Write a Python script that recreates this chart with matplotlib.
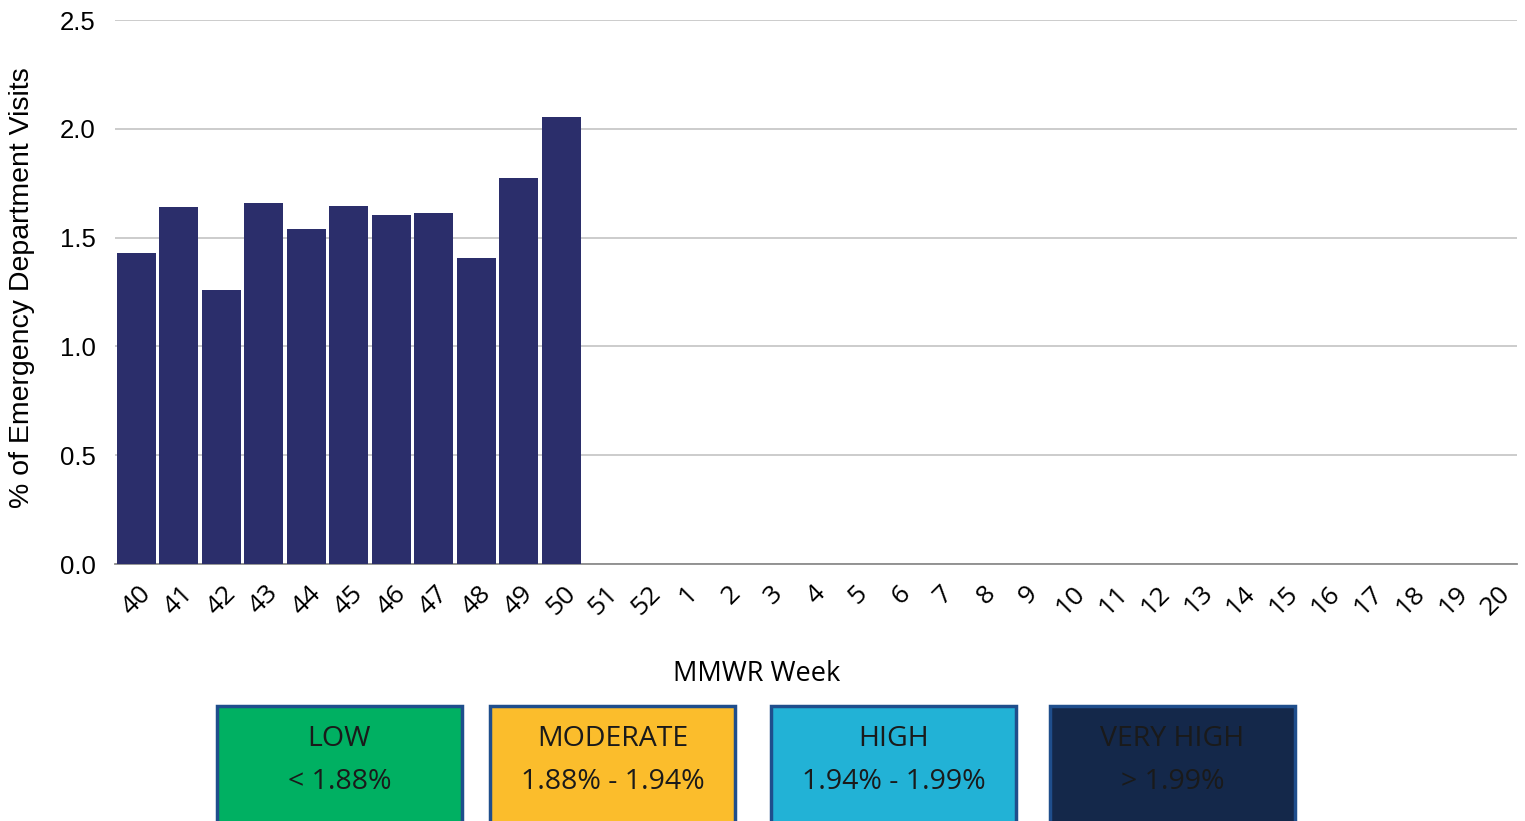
import matplotlib.pyplot as plt
from matplotlib.patches import Rectangle

# ---- Data ---- #
weeks = ["40", "41", "42", "43", "44", "45", "46", "47", "48", "49", "50", "51", "52",
         "1", "2", "3", "4", "5", "6", "7", "8", "9", "10", "11", "12", "13", "14",
         "15", "16", "17", "18", "19", "20"]
pct_visits = [1.43, 1.64, 1.26, 1.66, 1.54, 1.645, 1.605, 1.615, 1.405, 1.775, 2.055]

levels = ["LOW", "MODERATE", "HIGH", "VERY HIGH"]
level_ranges = ["< 1.88%", "1.88% - 1.94%", "1.94% - 1.99%", "> 1.99%"]
level_colors = ["#00B062", "#FBBD2C", "#22B2D6", "#14284A"]

# ---- Figure ---- #
fig = plt.figure(figsize=(15.25, 8.21), dpi=100)
ax = fig.add_axes([0.0754, 0.313, 0.9194, 0.6626])

x = list(range(len(pct_visits)))
ax.bar(x, pct_visits, width=0.92, color="#2B2E6B", zorder=3)

ax.set_xlim(-0.5, len(weeks) - 0.5)
ax.set_ylim(0, 2.5)
ax.set_yticks([0, 0.5, 1.0, 1.5, 2.0, 2.5])
ax.set_yticklabels(["0.0", "0.5", "1.0", "1.5", "2.0", "2.5"], fontsize=18.5,
                   family="Liberation Sans")
ax.set_xticks(range(len(weeks)))
ax.set_xticklabels(weeks, rotation=45, fontsize=19, ha="center", va="top",
                   family="Open Sans")
ax.tick_params(axis="y", length=0, pad=14)
ax.tick_params(axis="x", length=0, pad=12)
ax.grid(axis="y", color="#C8C8C8", linewidth=1.3, zorder=0)

for side in ["top", "right", "left"]:
    ax.spines[side].set_visible(False)
ax.spines["bottom"].set_color("#8C8C8C")
ax.spines["bottom"].set_linewidth(1.3)

fig.text(22 / 1525, (821 - 288) / 821, "% of Emergency Department Visits",
         rotation=90, ha="center", va="center", fontsize=20.5,
         family="Liberation Sans")
fig.text(757 / 1525, (821 - 674) / 821, "MMWR Week", ha="center", va="center",
         fontsize=19.5, family="Open Sans")

# ---- Risk level legend boxes ---- #
box_lefts = [217, 490, 771, 1050]
box_w = 245
for i, name in enumerate(levels):
    x0 = box_lefts[i] / 1525
    rect = Rectangle((x0, -0.01), box_w / 1525, 0.15, transform=fig.transFigure,
                     facecolor=level_colors[i], edgecolor="#1F4E8C", linewidth=2.5)
    fig.add_artist(rect)
    cx = x0 + box_w / 1525 / 2
    fig.text(cx, (821 - 739) / 821, name, ha="center", va="center",
             fontsize=20.5, color="#1A1A1A", family="Open Sans")
    fig.text(cx, (821 - 782) / 821, level_ranges[i], ha="center", va="center",
             fontsize=20.5, color="#1A1A1A", family="Open Sans")

fig.savefig("out.png", dpi=100)
